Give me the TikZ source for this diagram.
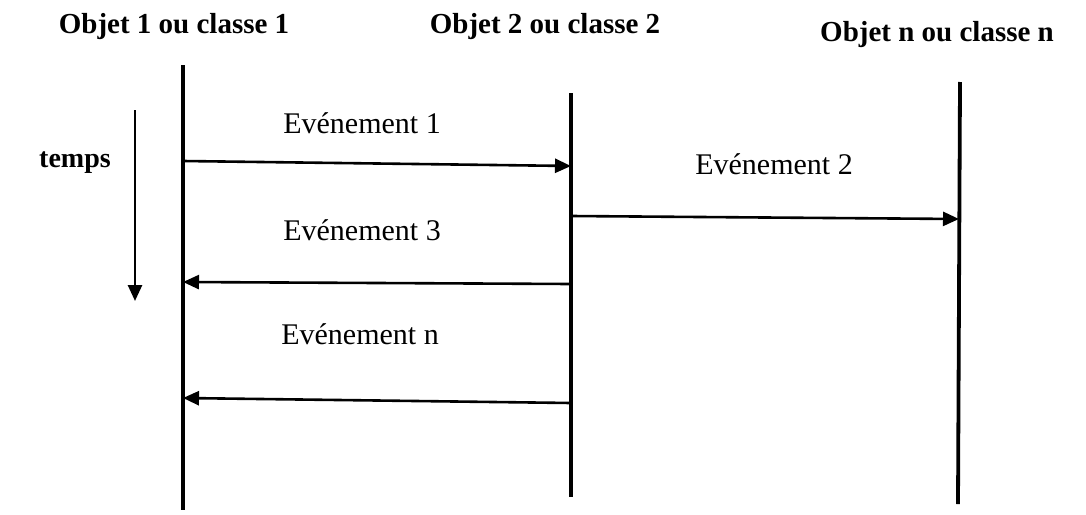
\documentclass[tikz,border=0pt]{standalone}
\usepackage{fontspec}
\setmainfont{Liberation Serif}
\usetikzlibrary{arrows.meta,positioning,calc}

\tikzset{
  lifeline/.style={line width=1.9pt},
  msg/.style={line width=1.3pt,-{Triangle[length=8pt,width=7pt]}},
  objlabel/.style={font=\fontsize{14.5}{17}\selectfont\bfseries,inner sep=0pt},
  evtlabel/.style={font=\fontsize{15}{18}\selectfont,inner sep=0pt}
}

\begin{document}
\begin{tikzpicture}[x=0.5pt,y=-0.5pt,line join=round]
      \useasboundingbox (0,0) rectangle (1086,514);
      % lifelines
      \coordinate (L1top) at (183,65);
      \coordinate (L1bot) at (183,510);
      \coordinate (L2top) at (571,93);
      \coordinate (L2bot) at (571,497);
      \coordinate (Lntop) at (960,82);
      \coordinate (Lnbot) at (958,504);
      \draw[lifeline] (L1top)--(L1bot);
      \draw[lifeline] (L2top)--(L2bot);
      \draw[lifeline] (Lntop)--(Lnbot);
      \node[objlabel] (obj1) at (174,27) {Objet 1 ou classe 1};
      \node[objlabel] (obj2) at (545,27) {Objet 2 ou classe 2};
      \node[objlabel] (objn) at (937,35) {Objet n ou classe n};
      % time axis
      \node[objlabel,font=\fontsize{14}{17}\selectfont\bfseries] (temps) at (75,163) {temps};
      \coordinate (t0) at (135,110);
      \coordinate (t1) at (135,301);
      \draw[msg] (t0)--(t1);
      % messages
      \coordinate (e1a) at (183,161);
      \coordinate (e1b) at (571,166);
      \coordinate (e2a) at (571,216);
      \coordinate (e2b) at (959,219);
      \coordinate (e3a) at (571,284);
      \coordinate (e3b) at (183,282);
      \coordinate (ena) at (571,403);
      \coordinate (enb) at (183,398);
      \draw[msg] (e1a)--(e1b);
      \draw[msg] (e2a)--(e2b);
      \draw[msg] (e3a)--(e3b);
      \draw[msg] (ena)--(enb);
      \node[evtlabel] (ev1) at (362,123) {Evénement 1};
      \node[evtlabel] (ev2) at (774,164) {Evénement 2};
      \node[evtlabel] (ev3) at (362,230) {Evénement 3};
      \node[evtlabel] (evn) at (360,334) {Evénement n};
    \end{tikzpicture}
\end{document}
